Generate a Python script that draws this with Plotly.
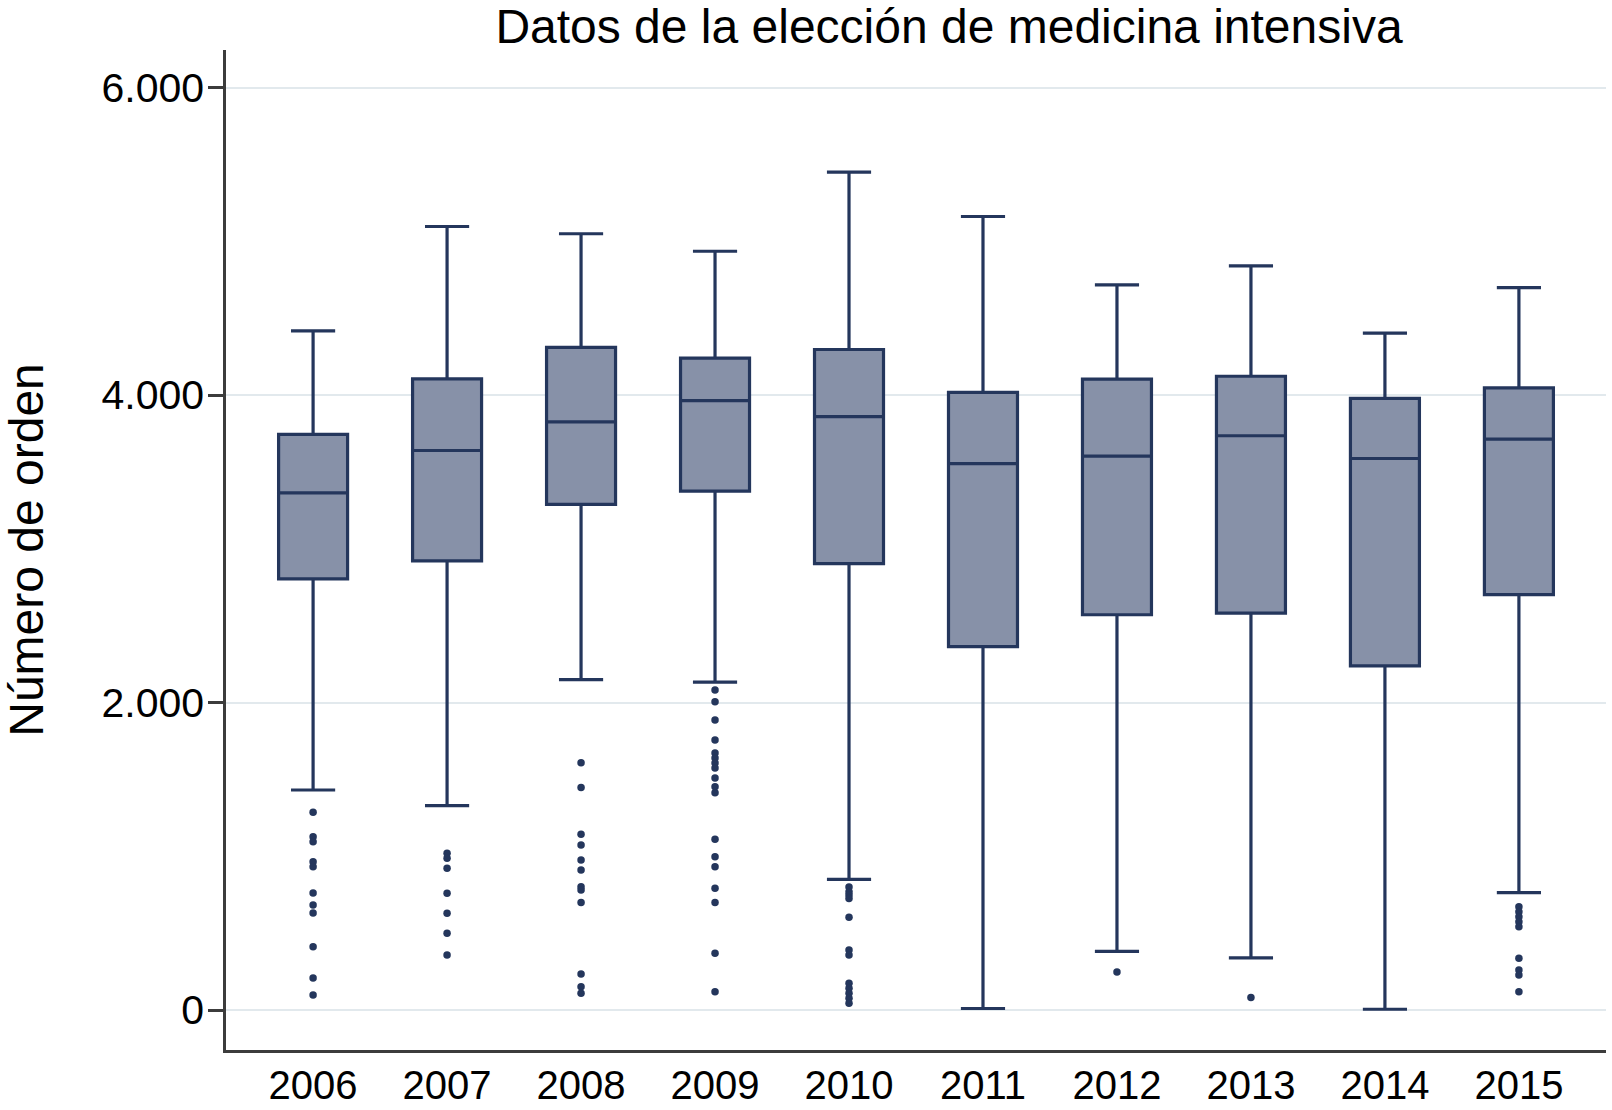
import plotly.graph_objs as go

years = ["2006", "2007", "2008", "2009", "2010", "2011", "2012", "2013", "2014", "2015"]

# box summary values
upper = [4417, 5096, 5049, 4935, 5450, 5161, 4717, 4840, 4403, 4698]
q3 = [3744, 4105, 4310, 4240, 4296, 4017, 4104, 4122, 3978, 4046]
median = [3364, 3639, 3825, 3963, 3860, 3554, 3602, 3735, 3587, 3713]
q1 = [2804, 2921, 3289, 3375, 2904, 2364, 2571, 2582, 2238, 2702]
lower = [1431, 1329, 2149, 2133, 850, 10, 382, 339, 5, 763]

# outliers per year
out_2006 = [1286, 1127, 1095, 965, 932, 761, 683, 631, 412, 208, 98]
out_2007 = [1019, 987, 922, 759, 629, 499, 358]
out_2008 = [1608, 1448, 1143, 1073, 976, 911, 802, 780, 700, 234, 152, 109]
out_2009 = [2081, 2005, 1886, 1756, 1672, 1639, 1606, 1574, 1509, 1452, 1413,
            1110, 997, 932, 792, 700, 369, 119]
out_2010 = [800, 769, 748, 726, 603, 390, 358, 174, 141, 109, 76, 44]
out_2011 = []
out_2012 = [248]
out_2013 = [82]
out_2014 = []
out_2015 = [672, 639, 607, 574, 542, 336, 260, 228, 119]

outliers = [out_2006, out_2007, out_2008, out_2009, out_2010,
            out_2011, out_2012, out_2013, out_2014, out_2015]

tick_vals = [0, 2000, 4000, 6000]
tick_text = ["0", "2.000", "4.000", "6.000"]

navy = "#24365c"
font = "Liberation Sans, Arial, sans-serif"

fig = go.Figure()

fig.add_trace(go.Box(
    x=years, q1=q1, median=median, q3=q3,
    lowerfence=lower, upperfence=upper,
    boxpoints=False, width=0.515, whiskerwidth=0.64,
    fillcolor="#8791a8", line=dict(color=navy, width=3.2),
    showlegend=False))

ox, oy = [], []
for yr, vals in zip(years, outliers):
    for v in vals:
        ox.append(yr)
        oy.append(v)

fig.add_trace(go.Scatter(
    x=ox, y=oy, mode="markers",
    marker=dict(color=navy, size=7.5),
    showlegend=False))

fig.update_layout(
    width=1612, height=1110,
    margin=dict(l=226, r=6, t=50, b=60, autoexpand=False),
    paper_bgcolor="white", plot_bgcolor="white",
    font=dict(family=font, color="black"),
    title=dict(text="Datos de la elección de medicina intensiva",
               x=949 / 1612, xanchor="center", xref="container",
               y=1 - 26 / 1110, yanchor="middle", yref="container",
               font=dict(size=48, family=font, color="black")),
    xaxis=dict(type="category", range=[-0.65, 9.65],
               showline=True, linecolor="#3c3c3c", linewidth=2.5,
               ticks="", showgrid=False, zeroline=False,
               tickfont=dict(size=40, family=font, color="black"),
               ticklabelstandoff=-2),
    yaxis=dict(range=[-260, 6244], tickvals=tick_vals, ticktext=tick_text,
               showline=True, linecolor="#3c3c3c", linewidth=2.5,
               ticks="outside", ticklen=15, tickwidth=2.5, tickcolor="#3c3c3c",
               showgrid=True, gridcolor="#e2e9ed", gridwidth=2,
               zeroline=False, ticklabelstandoff=-4,
               tickfont=dict(size=41, family=font, color="black"),
               title=dict(text="Número de orden",
                          font=dict(size=48, family=font, color="black"),
                          standoff=48)),
)

fig.write_html("out.html", config={"displayModeBar": False},
               post_script="document.body.style.margin='0';")
